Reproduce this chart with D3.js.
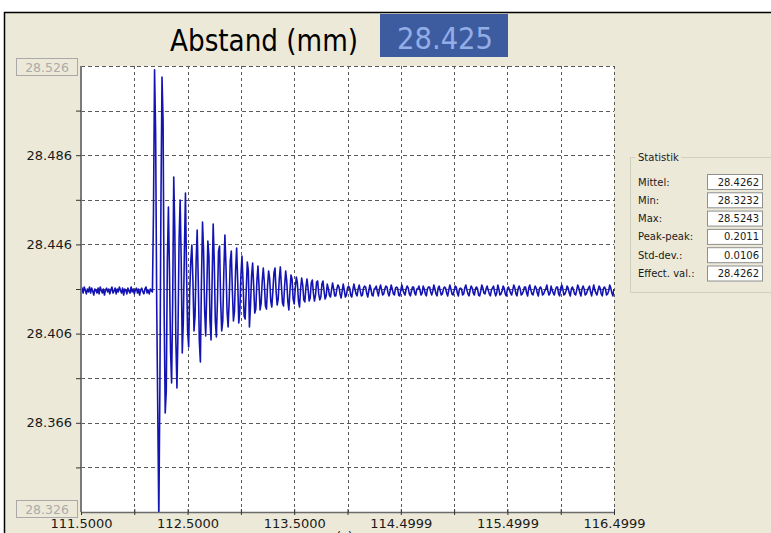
<!DOCTYPE html>
<html>
<head>
<meta charset="utf-8">
<script src="https://cdn.jsdelivr.net/npm/d3@7"></script>
<style>
  html, body { margin: 0; padding: 0; background: #ffffff; }
  svg { display: block; }
</style>
</head>
<body>
<svg id="chart" width="771" height="533"></svg>
<script>
// ---- Data -------------------------------------------------------------
// Distance samples (mm), one every 10 ms starting at t = 111.5 s
const sampleStart = 111.5;
const samplePeriod = 0.01;
const distance = [
  28.4251,28.4264,28.4242,28.4269,28.4255,28.4238,28.4260,28.4247,28.4269,28.4242,
  28.4264,28.4251,28.4233,28.4260,28.4255,28.4242,28.4264,28.4238,28.4269,28.4255,
  28.4242,28.4260,28.4233,28.4255,28.4264,28.4247,28.4260,28.4238,28.4255,28.4269,
  28.4242,28.4251,28.4264,28.4238,28.4260,28.4247,28.4269,28.4255,28.4242,28.4264,
  28.4233,28.4260,28.4255,28.4238,28.4264,28.4251,28.4242,28.4269,28.4247,28.4260,
  28.4238,28.4255,28.4264,28.4242,28.4260,28.4233,28.4255,28.4264,28.4247,28.4238,
  28.4260,28.4269,28.4242,28.4255,28.4238,28.4260,28.4251,28.4247,
  // impact and decaying oscillation
  28.4609,28.5243,28.4963,28.4206,28.3713,28.3232,28.3821,28.4654,28.5210,28.5013,
  28.4161,28.3704,28.3803,28.4385,28.4627,28.4341,28.3982,28.3839,28.4206,28.4762,
  28.4520,28.4027,28.3816,28.4072,28.4475,28.4659,28.4385,28.3973,28.4117,28.4430,
  28.4690,28.4341,28.4072,28.4000,28.4251,28.4385,28.4457,28.4296,28.4072,28.4139,
  28.4385,28.4524,28.4296,28.4027,28.3933,28.4296,28.4560,28.4430,28.4161,28.4049,
  28.4251,28.4475,28.4408,28.4117,28.4031,28.4296,28.4551,28.4385,28.4117,28.4045,
  28.4206,28.4430,28.4453,28.4206,28.4072,28.4117,28.4341,28.4502,28.4363,28.4161,
  28.4090,28.4206,28.4385,28.4430,28.4251,28.4117,28.4161,28.4341,28.4444,28.4296,
  28.4108,28.4161,28.4318,28.4408,28.4296,28.4139,28.4126,28.4251,28.4381,28.4341,
  28.4090,28.4184,28.4318,28.4376,28.4273,28.4152,28.4170,28.4296,28.4363,28.4273,
  28.4166,28.4197,28.4296,28.4354,28.4287,28.4184,28.4170,28.4273,28.4341,28.4305,
  28.4206,28.4179,28.4251,28.4332,28.4354,28.4251,28.4188,28.4215,28.4305,28.4359,
  28.4273,28.4197,28.4184,28.4273,28.4341,28.4296,28.4206,28.4166,28.4251,28.4323,
  28.4305,28.4215,28.4193,28.4264,28.4314,28.4287,28.4206,28.4179,28.4260,28.4309,
  28.4278,28.4211,28.4202,28.4269,28.4305,28.4264,28.4206,28.4220,28.4287,28.4300,
  28.4242,28.4206,28.4233,28.4291,28.4296,28.4238,28.4211,28.4224,28.4282,28.4296,
  28.4251,28.4215,28.4229,
  // settled
  28.4282,28.4264,28.4233,28.4224,28.4255, 28.4287,28.4260,28.4229,28.4229,28.4260,
  28.4278,28.4269,28.4238,28.4220,28.4251, 28.4282,28.4255,28.4224,28.4233,28.4264,
  28.4273,28.4264,28.4233,28.4224,28.4255, 28.4282,28.4260,28.4238,28.4229,28.4260,
  28.4278,28.4251,28.4229,28.4233,28.4264, 28.4273,28.4269,28.4242,28.4224,28.4251,
  28.4278,28.4260,28.4233,28.4229,28.4260, 28.4264,28.4273,28.4247,28.4229,28.4260,
  28.4278,28.4255,28.4233,28.4238,28.4260, 28.4273,28.4269,28.4242,28.4229,28.4251,
  28.4278,28.4260,28.4238,28.4233,28.4264, 28.4269,28.4264,28.4233,28.4229,28.4255,
  28.4278,28.4255,28.4242,28.4233,28.4260, 28.4273,28.4264,28.4238,28.4229,28.4251,
  28.4269,28.4269,28.4242,28.4233,28.4260, 28.4260,28.4273,28.4255,28.4233,28.4242,
  28.4273,28.4260,28.4238,28.4229,28.4260, 28.4269,28.4269,28.4247,28.4233,28.4251,
  28.4278,28.4260,28.4238,28.4229,28.4264, 28.4273,28.4251,28.4233,28.4238,28.4260,
  28.4269,28.4264,28.4242,28.4229,28.4255, 28.4278,28.4260,28.4238,28.4233,28.4251,
  28.4273,28.4269,28.4242,28.4229,28.4260, 28.4264,28.4260,28.4233,28.4238,28.4264,
  28.4278,28.4255,28.4238,28.4229,28.4255, 28.4273,28.4264,28.4242,28.4233,28.4260,
  28.4269,28.4260,28.4233,28.4229,28.4251, 28.4278,28.4264,28.4242,28.4238,28.4260,
  28.4273,28.4255,28.4238,28.4229,28.4255, 28.4264,28.4273,28.4247,28.4229,28.4242,
  28.4278,28.4260,28.4233,28.4238,28.4251, 28.4273,28.4264,28.4238,28.4229,28.4260,
  28.4269,28.4255,28.4242,28.4233,28.4255, 28.4278,28.4264,28.4238,28.4229,28.4260,
  28.4273,28.4260,28.4233,28.4238,28.4251, 28.4269,28.4269,28.4242,28.4229,28.4264,
  28.4278,28.4255,28.4238,28.4233,28.4255, 28.4273,28.4264,28.4242,28.4229,28.4260,
  28.4269,28.4260,28.4233,28.4238,28.4251, 28.4260,28.4278,28.4251,28.4233,28.4242,
  28.4273,28.4255,28.4242,28.4233,28.4255, 28.4269,28.4269,28.4238,28.4229,28.4264,
  28.4278,28.4260,28.4233,28.4238,28.4251, 28.4273,28.4264,28.4242,28.4229,28.4260,
  28.4269,28.4255,28.4238,28.4233,28.4255, 28.4278,28.4264,28.4242,28.4229,28.4260,
  28.4273,28.4260,28.4233,28.4238,28.4251, 28.4264,28.4273,28.4247,28.4229,28.4255,
  28.4278,28.4255,28.4242,28.4233,28.4255, 28.4273,28.4264,28.4238,28.4229,28.4260,
  28.4269,28.4260,28.4233,28.4238,28.4251, 28.4278,28.4264,28.4242,28.4229,28.4260
];

// Axis ranges and ticks
const xDomain = [111.5, 116.5];
const yDomain = [28.326, 28.526];
const xGridValues = [111.5, 112.0, 112.5, 113.0, 113.5, 114.0, 114.5, 115.0, 115.5, 116.0, 116.5];
const xLabelValues = [111.5, 112.5, 113.5, 114.5, 115.5, 116.5];
const xLabels = ["111.5000", "112.5000", "113.5000", "114.4999", "115.4999", "116.4999"];
const yGridValues = [28.326, 28.346, 28.366, 28.386, 28.406, 28.426, 28.446, 28.466, 28.486, 28.506, 28.526];
const yLabelValues = [28.366, 28.406, 28.446, 28.486];
const yLabels = ["28.366", "28.406", "28.446", "28.486"];
const yRangeLabels = ["28.526", "28.326"];

// Header
const titleText = "Abstand (mm)";
const currentValue = "28.425";

// Statistics panel
const statsTitle = "Statistik";
const statNames = ["Mittel:", "Min:", "Max:", "Peak-peak:", "Std-dev.:", "Effect. val.:"];
const statValues = ["28.4262", "28.3232", "28.5243", "0.2011", "0.0106", "28.4262"];

// ---- Drawing ----------------------------------------------------------
const svg = d3.select("#chart");
const plot = { left: 81, right: 614, top: 66, bottom: 512 };
const uiFont = "'DejaVu Sans', Verdana, sans-serif";

// Window background and frame
svg.append("rect").attr("x", 0).attr("y", 0).attr("width", 771).attr("height", 533).attr("fill", "#ffffff");
svg.append("rect").attr("x", 4).attr("y", 12).attr("width", 767).attr("height", 521).attr("fill", "#ece9d8");
svg.append("path").attr("d", "M4.5,533V12.5H771").attr("fill", "none").attr("stroke", "#000").attr("stroke-width", 1.5);

// Title and live value
svg.append("text")
  .attr("x", 170).attr("y", 51)
  .attr("textLength", 188).attr("lengthAdjust", "spacingAndGlyphs")
  .style("font-family", "'Liberation Sans Narrow', 'DejaVu Sans Condensed', 'Liberation Sans', sans-serif")
  .style("font-size", "31px").attr("fill", "#000")
  .text(titleText);
svg.append("rect").attr("x", 380).attr("y", 14).attr("width", 128).attr("height", 43).attr("fill", "#3d5c9f");
svg.append("text")
  .attr("x", 397).attr("y", 49)
  .attr("textLength", 96).attr("lengthAdjust", "spacingAndGlyphs")
  .style("font-family", "'Liberation Sans Narrow', 'DejaVu Sans Condensed', 'Liberation Sans', sans-serif")
  .style("font-size", "31px").attr("fill", "#93ade6")
  .text(currentValue);

// Scales
const x = d3.scaleLinear().domain(xDomain).range([plot.left, plot.right]);
const y = d3.scaleLinear().domain(yDomain).range([plot.bottom, plot.top]);

// Plot background
svg.append("rect")
  .attr("x", plot.left).attr("y", plot.top)
  .attr("width", plot.right - plot.left).attr("height", plot.bottom - plot.top)
  .attr("fill", "#ffffff");

// Grid
const grid = svg.append("g").attr("fill", "none").attr("stroke", "#5a5a5a").attr("stroke-width", 1);
grid.selectAll("line.v").data(xGridValues).join("line").attr("class", "v")
  .attr("x1", d => Math.round(x(d)) + 0.5).attr("x2", d => Math.round(x(d)) + 0.5)
  .attr("y1", plot.top).attr("y2", plot.bottom)
  .attr("stroke-dasharray", "3,3");
grid.selectAll("line.h").data(yGridValues).join("line").attr("class", "h")
  .attr("y1", d => Math.round(y(d)) + 0.5).attr("y2", d => Math.round(y(d)) + 0.5)
  .attr("x1", plot.left).attr("x2", plot.right)
  .attr("stroke-dasharray", "4,3");

// Signal trace
svg.append("clipPath").attr("id", "plotClip").append("rect")
  .attr("x", plot.left).attr("y", plot.top)
  .attr("width", plot.right - plot.left).attr("height", plot.bottom - plot.top);
const samples = distance.map((v, i) => ({ t: sampleStart + i * samplePeriod, v }));
const line = d3.line().x(d => x(d.t)).y(d => y(d.v));
svg.append("path")
  .datum(samples)
  .attr("clip-path", "url(#plotClip)")
  .attr("fill", "none")
  .attr("stroke", "#1414b4")
  .attr("stroke-width", 1.6)
  .attr("stroke-linejoin", "round")
  .attr("d", line);

// Axes
const xAxis = d3.axisBottom(x)
  .tickValues(xGridValues)
  .tickSize(4).tickPadding(3)
  .tickFormat(d => {
    const k = xLabelValues.findIndex(v => Math.abs(v - d) < 1e-9);
    return k >= 0 ? xLabels[k] : "";
  });
const gx = svg.append("g").attr("transform", `translate(0,${plot.bottom})`).call(xAxis);
gx.select(".domain").attr("stroke", "#6a6a6a").attr("stroke-width", 1.5).attr("d", `M${plot.left},0.5H${plot.right}`);
gx.selectAll(".tick line").attr("stroke", "#333").attr("y1", -3).attr("y2", 3);
gx.selectAll(".tick text").attr("fill", "#1a1a1a").style("font-family", uiFont).style("font-size", "13px");

const yAxis = d3.axisLeft(y)
  .tickValues(yGridValues.filter(v => v > yDomain[0] + 1e-9 && v < yDomain[1] - 1e-9))
  .tickSize(5).tickPadding(4)
  .tickFormat(d => {
    const k = yLabelValues.findIndex(v => Math.abs(v - d) < 1e-9);
    return k >= 0 ? yLabels[k] : "";
  });
const gy = svg.append("g").attr("transform", `translate(${plot.left},0)`).call(yAxis);
gy.select(".domain").attr("stroke", "#7a7a7a").attr("stroke-width", 2).attr("d", `M0,${plot.top}V${plot.bottom}`);
gy.selectAll(".tick line").attr("stroke", "#333");
gy.selectAll(".tick text").attr("fill", "#1a1a1a").style("font-family", uiFont).style("font-size", "13px");

// Axis unit, mostly below the window edge
svg.append("text").attr("x", 336).attr("y", 541)
  .style("font-family", uiFont).style("font-size", "13px").attr("fill", "#1a1a1a").text("(s)");

// Y range boxes (top / bottom limits)
const rangeBoxes = [
  { label: yRangeLabels[0], top: 58 },
  { label: yRangeLabels[1], top: 500 }
];
const rb = svg.append("g").selectAll("g").data(rangeBoxes).join("g");
rb.append("rect").attr("x", 16.5).attr("y", d => d.top + 0.5).attr("width", 61).attr("height", 17)
  .attr("fill", "#ece9d8").attr("stroke", "#a9a9a9");
rb.append("text").attr("x", 47).attr("y", d => d.top + 13.5).attr("text-anchor", "middle")
  .style("font-family", uiFont).style("font-size", "12.5px").attr("fill", "#ababab")
  .text(d => d.label);

// Statistics group box
const stats = svg.append("g");
stats.append("path").attr("d", "M771,157.5H630.5V292.5H771").attr("fill", "none").attr("stroke", "#d0d0bf");
stats.append("rect").attr("x", 635).attr("y", 151).attr("width", 46).attr("height", 12).attr("fill", "#ece9d8");
stats.append("text").attr("x", 638).attr("y", 161)
  .style("font-family", uiFont).style("font-size", "10px").attr("fill", "#1a1a1a").text(statsTitle);
const rowY = d3.scalePoint().domain(d3.range(statNames.length)).range([182, 273.5]);
const rows = stats.selectAll("g.row").data(statNames).join("g").attr("class", "row")
  .attr("transform", (d, i) => `translate(0,${rowY(i)})`);
rows.append("text").attr("x", 638).attr("y", 3.5)
  .style("font-family", uiFont).style("font-size", "10px").attr("fill", "#1a1a1a")
  .text(d => d);
rows.append("rect").attr("x", 707.5).attr("y", -7.5).attr("width", 55).attr("height", 15)
  .attr("fill", "#ffffff").attr("stroke", "#8e8f8f");
rows.append("text").attr("x", 759).attr("y", 3.5).attr("text-anchor", "end")
  .style("font-family", uiFont).style("font-size", "10px").attr("fill", "#1a1a1a")
  .text((d, i) => statValues[i]);
</script>
</body>
</html>
